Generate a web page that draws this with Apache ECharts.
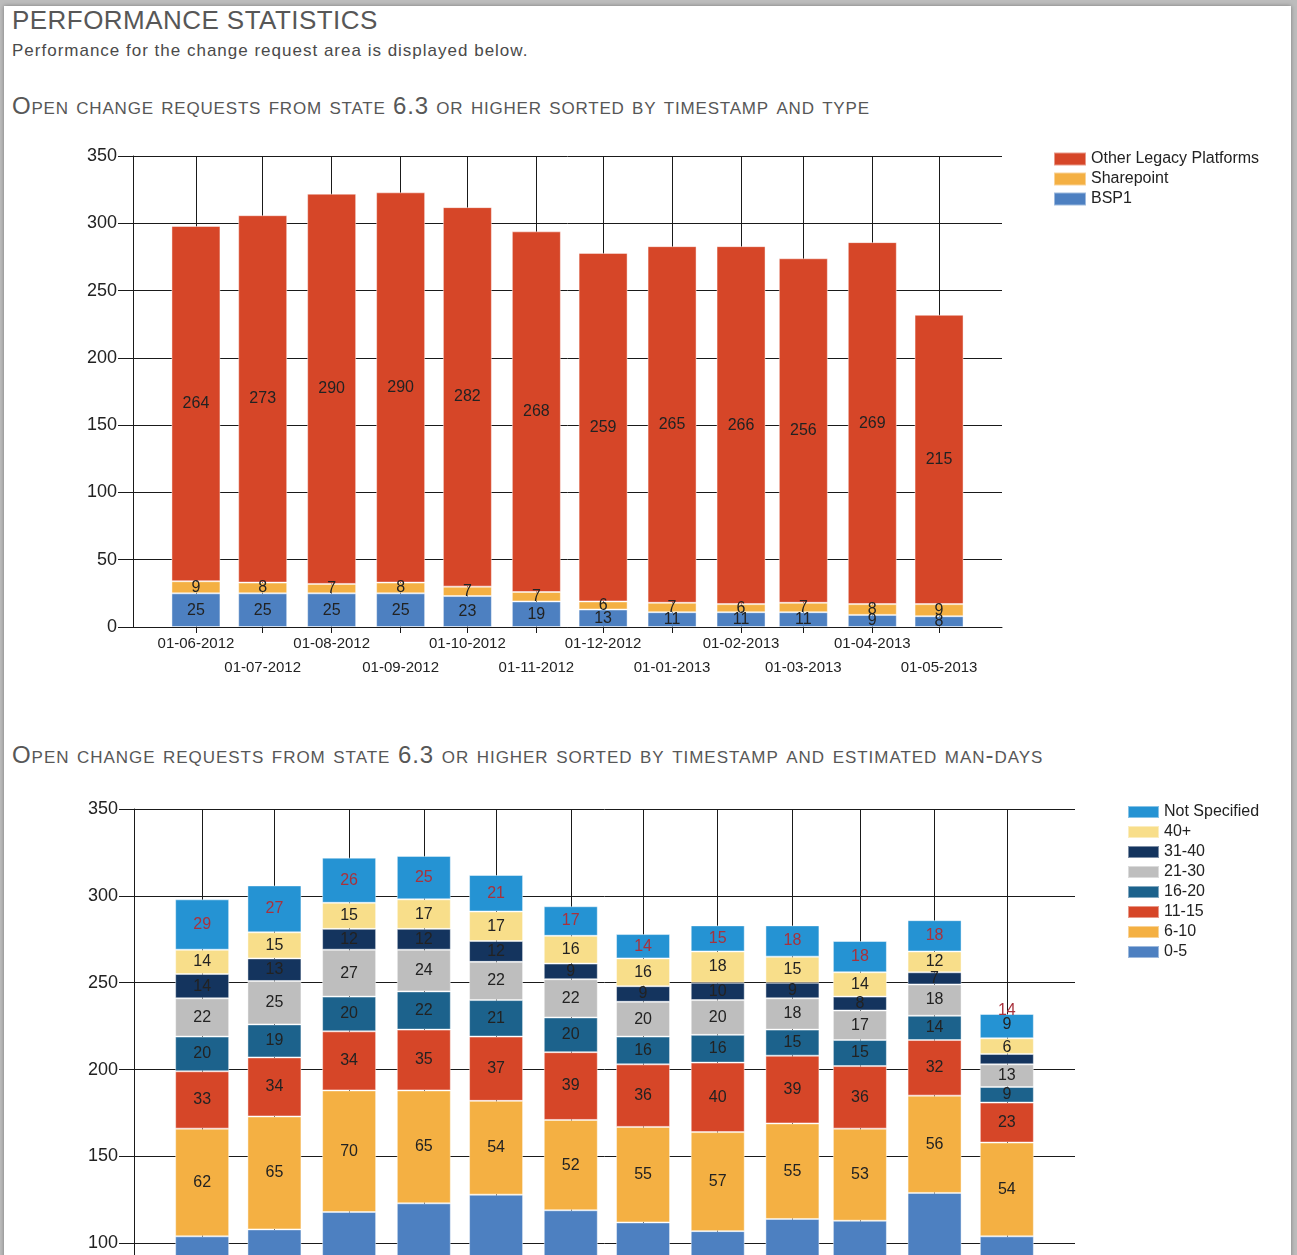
<!DOCTYPE html>
<html>
<head>
<meta charset="utf-8">
<script src="https://cdn.jsdelivr.net/npm/echarts@6/dist/echarts.min.js"></script>
<style>
html, body { margin: 0; width: 1297px; height: 1255px; overflow: hidden; background: #bcbcbc; }
#page { position: absolute; left: 4px; top: 6px; width: 1287px; height: 1300px; background: #fff; box-shadow: 0 0 4px rgba(0,0,0,0.35); }
.txt { position: absolute; left: 12px; margin: 0; color: #575757; font-family: "Liberation Sans", Arial, sans-serif; white-space: nowrap; }
#h1 { top: 5px; font-size: 26px; font-weight: normal; letter-spacing: 0.45px; }
#sub { top: 41px; font-size: 17px; color: #4a4a4a; letter-spacing: 1px; }
.sec { font-size: 24px; font-variant: small-caps; font-weight: normal; }
#sec1 { top: 92px; letter-spacing: 0.8px; }
#sec2 { top: 741px; letter-spacing: 0.95px; }
.chart { position: absolute; left: 0; width: 1297px; }
#c1 { top: 130px; height: 560px; }
#c2 { top: 780px; height: 720px; }
</style>
</head>
<body>
<div id="page"></div>
<div class="txt" id="h1">PERFORMANCE STATISTICS</div>
<div class="txt" id="sub">Performance for the change request area is displayed below.</div>
<div class="txt sec" id="sec1">Open change requests from state 6.3 or higher sorted by timestamp and type</div>
<div class="txt sec" id="sec2">Open change requests from state 6.3 or higher sorted by timestamp and estimated man-days</div>
<div class="chart" id="c1"></div>
<div class="chart" id="c2"></div>
<script>
// months shown on the x axis (first of each month)
var months = ['2012-06-01','2012-07-01','2012-08-01','2012-09-01','2012-10-01','2012-11-01',
              '2012-12-01','2013-01-01','2013-02-01','2013-03-01','2013-04-01','2013-05-01'];
var tickLabels = ['01-06-2012','01-07-2012','01-08-2012','01-09-2012','01-10-2012','01-11-2012',
                  '01-12-2012','01-01-2013','01-02-2013','01-03-2013','01-04-2013','01-05-2013'];

// chart 1 - by type
var bsp1        = [25, 25, 25, 25, 23, 19, 13, 11, 11, 11, 9, 8];
var sharepoint  = [9, 8, 7, 8, 7, 7, 6, 7, 6, 7, 8, 9];
var otherLegacy = [264, 273, 290, 290, 282, 268, 259, 265, 266, 256, 269, 215];

// chart 2 - by estimated man-days
var md0_5    = [104, 108, 118, 123, 128, 119, 112, 107, 114, 113, 129, 104];
var md6_10   = [62, 65, 70, 65, 54, 52, 55, 57, 55, 53, 56, 54];
var md11_15  = [33, 34, 34, 35, 37, 39, 36, 40, 39, 36, 32, 23];
var md16_20  = [20, 19, 20, 22, 21, 20, 16, 16, 15, 15, 14, 9];
var md21_30  = [22, 25, 27, 24, 22, 22, 20, 20, 18, 17, 18, 13];
var md31_40  = [14, 13, 12, 12, 12, 9, 9, 10, 9, 8, 7, 6];
var md40p    = [14, 15, 15, 17, 17, 16, 16, 18, 15, 14, 12, 9];
var notSpec  = [29, 27, 26, 25, 21, 17, 14, 15, 18, 18, 18, 14];

var FONT = '"Liberation Sans", Arial, sans-serif';
var DAY = 86400000;
var tickTimes = months.map(function (m) { return Date.parse(m); });
// visible axis range: a bit under a month of padding each side
var X_MIN = Date.UTC(2012, 4, 3, 17);
var X_MAX = Date.UTC(2013, 4, 29, 7);

// staggered labels: even months on the first row, odd months on the second
function fmtRow(parity) {
  return function (v) {
    var i = tickTimes.indexOf(+v);
    return (i >= 0 && i % 2 === parity) ? tickLabels[i] : '';
  };
}

function xAxes(barWidth, gridWidth) {
  var line = { color: '#1a1a1a', width: 1 };
  // echarts widens a bar base axis by the bar width, so hand it a narrower range
  var pad = (X_MAX - X_MIN) * barWidth / gridWidth / 2;
  var iv = { minInterval: 27 * DAY, maxInterval: 32 * DAY };
  return [
    Object.assign({ type: 'time', min: X_MIN + pad, max: X_MAX - pad }, iv, {
      axisLine: { show: true, onZero: false, lineStyle: line },
      axisTick: { show: true, length: 6, lineStyle: line },
      splitLine: { show: true, showMinLine: false, showMaxLine: false, lineStyle: line },
      axisLabel: { formatter: fmtRow(0), fontSize: 15, fontFamily: FONT, color: '#222', margin: 9,
                   showMinLabel: false, showMaxLabel: false }
    }),
    // second label row: no bars on it, so it keeps the plain range
    Object.assign({ type: 'time', min: X_MIN, max: X_MAX }, iv, {
      position: 'bottom',
      axisLine: { show: false, onZero: false }, axisTick: { show: false }, splitLine: { show: false },
      axisLabel: { formatter: fmtRow(1), fontSize: 15, fontFamily: FONT, color: '#222', margin: 33,
                   showMinLabel: false, showMaxLabel: false }
    })
  ];
}

function yAxis() {
  var line = { color: '#1a1a1a', width: 1 };
  return {
    type: 'value', min: 0, max: 350, interval: 50,
    axisLine: { show: true, lineStyle: line },
    axisTick: { show: true, length: 15, lineStyle: line },
    splitLine: { show: true, lineStyle: line },
    axisLabel: { fontSize: 18, fontFamily: FONT, color: '#222', margin: 16 }
  };
}

function barSeries(name, values, color, barWidth, labelColor) {
  return {
    name: name, type: 'bar', stack: 'total', barWidth: barWidth,
    itemStyle: { color: color, borderColor: 'rgba(255,255,255,0.45)', borderWidth: 1 },
    label: { show: true, position: 'inside', fontSize: 16, fontFamily: FONT,
             color: labelColor || '#222', textBorderWidth: 0 },
    data: values.map(function (v, i) { return [tickTimes[i], v]; })
  };
}

function legend(left, top, names, w, h) {
  return {
    orient: 'vertical', left: left, top: top, icon: 'rect', padding: 0,
    itemWidth: w, itemHeight: h, itemGap: 4, selectedMode: false,
    textStyle: { fontSize: 16, fontFamily: FONT, color: '#222' },
    data: names
  };
}

var c1 = echarts.init(document.getElementById('c1'));
c1.setOption({
  animation: false,
  useUTC: true,
  grid: { left: 133, top: 26, width: 869, height: 471 },
  legend: legend(1053, 21, ['Other Legacy Platforms', 'Sharepoint', 'BSP1'], 32, 13),
  xAxis: xAxes(49, 869),
  yAxis: yAxis(),
  series: [
    barSeries('BSP1', bsp1, '#4d80c1', 49),
    barSeries('Sharepoint', sharepoint, '#f4b043', 49),
    barSeries('Other Legacy Platforms', otherLegacy, '#d64628', 49)
  ]
});

var lastShift = { 'Not Specified': -16, '40+': -22, '31-40': -12 };
var s2 = [
  barSeries('0-5', md0_5, '#4d80c1', 54),
  barSeries('6-10', md6_10, '#f4b043', 54),
  barSeries('11-15', md11_15, '#d64628', 54),
  barSeries('16-20', md16_20, '#1c628c', 54),
  barSeries('21-30', md21_30, '#bebebe', 54),
  barSeries('31-40', md31_40, '#14345e', 54),
  barSeries('40+', md40p, '#f8de8a', 54),
  barSeries('Not Specified', notSpec, '#2593d3', 54, '#a8323c')
];
s2.forEach(function (s) {
  if (lastShift[s.name] !== undefined) {
    var last = s.data.length - 1;
    s.data[last] = { value: s.data[last], label: { offset: [0, lastShift[s.name]] } };
  }
});

var c2 = echarts.init(document.getElementById('c2'));
c2.setOption({
  animation: false,
  useUTC: true,
  grid: { left: 134, top: 29, width: 941, height: 608 },
  legend: legend(1127, 24, ['Not Specified', '40+', '31-40', '21-30', '16-20', '11-15', '6-10', '0-5'], 31, 12),
  xAxis: xAxes(54, 941),
  yAxis: yAxis(),
  series: s2
});
</script>
</body>
</html>
